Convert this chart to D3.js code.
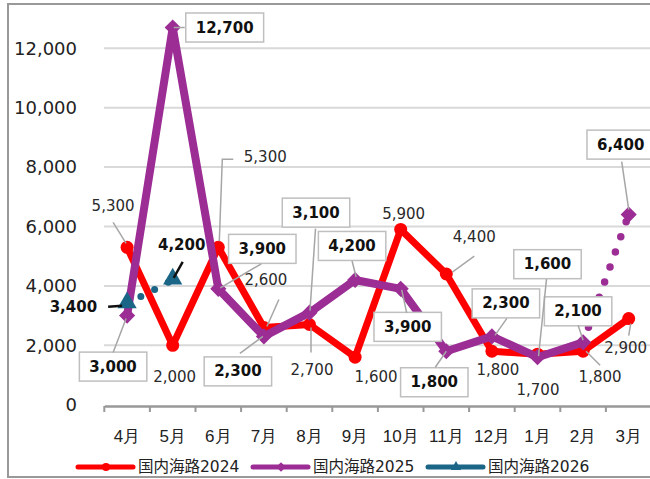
<!DOCTYPE html>
<html><head><meta charset="utf-8">
<script src="https://cdn.jsdelivr.net/npm/d3@7"></script>
<style>
html,body{margin:0;padding:0;background:#fff;}
svg{display:block;font-family:"DejaVu Sans","Noto Sans CJK JP",sans-serif;}
</style></head>
<body>
<svg id="c" width="650" height="479"></svg>
<script>
// ---- data ----
const months = ["4月","5月","6月","7月","8月","9月","10月","11月","12月","1月","2月","3月"];
const s2024 = [5300,2000,5300,2600,2700,1600,5900,4400,1800,1700,1800,2900];
const s2025 = [3000,12700,3900,2300,3100,4200,3900,1800,2300,1600,2100,6400];
const s2026 = [3400,4200];
const yTicks = [0,2000,4000,6000,8000,10000,12000];
const seriesNames = ["国内海路2024","国内海路2025","国内海路2026"];

// ---- label layout (offsets from the data point) ----
const lab2024 = [
  {dx:-14,dy:-41,line:[[-14,-25],[-1,-4]]},
  {dx:2,dy:32},
  {dx:47,dy:-90,line:[[15,-88],[4,-88],[1,-6]]},
  {dx:2,dy:-47,line:[[15,-28],[3,-1]]},
  {dx:2.5,dy:45,line:[[1.5,28],[1.5,3]]},
  {dx:21,dy:20},
  {dx:3,dy:-15},
  {dx:28,dy:-37,line:[[28,-18],[6,-2]]},
  {dx:6,dy:19},
  {dx:0.5,dy:36},
  {dx:17,dy:26,line:[[17,14],[3,0]]},
  {dx:-3,dy:29,line:[[0,17],[2,5]]}
];
const lab2025 = [
  {dx:-14,dy:51,line:[[-14,37],[-1,3]]},
  {dx:52,dy:0,line:[[1,0],[12,0]]},
  {dx:44,dy:-40,line:[[43,-25],[2,-1]]},
  {dx:-26,dy:35,line:[[-24,17],[-1,0]]},
  {dx:6.5,dy:-100,line:[[6,-84],[0.5,-2]]},
  {dx:-3,dy:-34,line:[[-3,-19],[1,-3]]},
  {dx:7,dy:38,line:[[6,24],[1,1]]},
  {dx:-12,dy:31,line:[[-11,16],[0,0]]},
  {dx:14,dy:-33,line:[[15,-18],[3,-1]]},
  {dx:10,dy:-93,line:[[9,-78],[1,-1]]},
  {dx:-5,dy:-31,line:[[-5,-17],[0,-2]]},
  {dx:-8,dy:-70,line:[[-7,-53],[0,-5]]}
];
const lab2026 = [
  {dx:-30,dy:3,anchor:"end",line:[[-19,3],[-5,2]]},
  {dx:9,dy:-35,line:[[10,-18],[1,-2]]}
];

const svg = d3.select("#c");
const fmt = d3.format(",");
const RED = "#FF0000", PURPLE = "#9B2D94", TEAL = "#1B6587";

// frame
svg.append("rect").attr("x",8).attr("y",4).attr("width",700).attr("height",473)
  .attr("fill","#fff").attr("stroke","#999").attr("stroke-width",2);

const x = d3.scaleBand().domain(months).range([104.3,651.5]);
const y = d3.scaleLinear().domain([0,12000]).range([404.7,48.3]);
const cx = i => x(months[i]) + x.bandwidth()/2;

// gridlines
svg.append("g").selectAll("line").data(yTicks.slice(1)).join("line")
  .attr("x1",104).attr("x2",650).attr("y1",d=>y(d)).attr("y2",d=>y(d))
  .attr("stroke","#D9D9D9").attr("stroke-width",2);

// y axis labels
const yAxis = d3.axisLeft(y).tickValues(yTicks).tickFormat(fmt).tickSize(0).tickPadding(0);
const gy = svg.append("g").attr("transform","translate(77,0)").call(yAxis);
gy.select(".domain").remove();
gy.selectAll("text").attr("font-size",18).attr("fill","#222").attr("font-family","DejaVu Sans");

// x axis
const xAxis = d3.axisBottom(x).tickSize(0).tickPadding(0);
const gx = svg.append("g").attr("transform","translate(0,406)").call(xAxis);
gx.select(".domain").attr("stroke","#999").attr("stroke-width",2.5);
gx.selectAll(".tick line").remove();
gx.selectAll("text").attr("font-size",17).attr("fill","#222").attr("dy",0).attr("y",36);
// category boundary ticks
svg.append("g").selectAll("line").data(months).join("line")
  .attr("x1",d=>x(d)).attr("x2",d=>x(d)).attr("y1",406).attr("y2",412)
  .attr("stroke","#999").attr("stroke-width",2);

// lines
const line = d3.line().x(d=>cx(d.i)).y(d=>y(d.v));
const pts = arr => arr.map((v,i)=>({i,v}));
const p24 = pts(s2024), p25 = pts(s2025), p26 = pts(s2026);

svg.append("path").attr("d",line(p24)).attr("fill","none").attr("stroke",RED)
  .attr("stroke-width",7).attr("stroke-linejoin","round");
svg.selectAll(".m24").data(p24).join("circle").attr("cx",d=>cx(d.i)).attr("cy",d=>y(d.v))
  .attr("r",6.5).attr("fill",RED);

svg.append("path").attr("d",line(p25.slice(0,11))).attr("fill","none").attr("stroke",PURPLE)
  .attr("stroke-width",8).attr("stroke-linejoin","round");
svg.append("path").attr("d",line(p25.slice(10))).attr("fill","none").attr("stroke",PURPLE)
  .attr("stroke-width",7.5).attr("stroke-linecap","round").attr("stroke-dasharray","0 16");
svg.selectAll(".m25").data(p25).join("path")
  .attr("d",d3.symbol().type(d3.symbolSquare).size(130))
  .attr("transform",d=>`translate(${cx(d.i)},${y(d.v)}) rotate(45)`).attr("fill",PURPLE);

svg.append("path").attr("d",line(p26)).attr("fill","none").attr("stroke",TEAL)
  .attr("stroke-width",7).attr("stroke-linecap","round").attr("stroke-dasharray","0 15.5");
svg.selectAll(".m26").data(p26).join("path")
  .attr("d",d3.symbol().type(d3.symbolTriangle).size(160))
  .attr("transform",d=>`translate(${cx(d.i)},${y(d.v)-1})`).attr("fill",TEAL);

// labels
function leader(g, p, l, color, w){
  if(!l.line) return;
  g.append("polyline").attr("points",l.line.map(q=>[cx(p.i)+q[0],y(p.v)+q[1]].join(",")).join(" "))
    .attr("fill","none").attr("stroke",color).attr("stroke-width",w);
}
const gl = svg.append("g");
p24.forEach((p,k)=>{
  const l = lab2024[k];
  leader(gl,p,l,"#A6A6A6",1.5);
  gl.append("text").attr("x",cx(p.i)+l.dx).attr("y",y(p.v)+l.dy).attr("text-anchor","middle")
    .attr("dominant-baseline","central").attr("font-size",15).attr("fill","#2a2a2a").text(fmt(p.v));
});
p25.forEach((p,k)=>{
  const l = lab2025[k];
  leader(gl,p,l,"#A6A6A6",1.5);
  const tx = cx(p.i)+l.dx, ty = y(p.v)+l.dy;
  const t = gl.append("text").attr("x",tx).attr("y",ty).attr("text-anchor","middle")
    .attr("dominant-baseline","central").attr("font-size",15).attr("font-weight","bold")
    .attr("fill","#111").text(fmt(p.v));
  const w = t.node().getComputedTextLength() + 20;
  gl.insert("rect","text").attr("x",tx-w/2).attr("y",ty-14.5).attr("width",w).attr("height",29)
    .attr("fill","#fff").attr("stroke","#BFBFBF").attr("stroke-width",1.5);
});
gl.selectAll("text").raise();
p26.forEach((p,k)=>{
  const l = lab2026[k];
  leader(gl,p,l,"#111",2.5);
  gl.append("text").attr("x",cx(p.i)+l.dx).attr("y",y(p.v)+l.dy).attr("text-anchor",l.anchor||"middle")
    .attr("dominant-baseline","central").attr("font-size",15).attr("font-weight","bold")
    .attr("fill","#111").text(fmt(p.v));
});

// legend
const legend = [
  {name:seriesNames[0],color:RED,x:78,sym:"circle"},
  {name:seriesNames[1],color:PURPLE,x:253,sym:"diamond"},
  {name:seriesNames[2],color:TEAL,x:428,sym:"triangle"}
];
const lg = svg.append("g");
legend.forEach(d=>{
  lg.append("line").attr("x1",d.x).attr("x2",d.x+55).attr("y1",467).attr("y2",467)
    .attr("stroke",d.color).attr("stroke-width",5).attr("stroke-linecap","round");
  const sym = d.sym==="circle"?d3.symbolCircle:d.sym==="diamond"?d3.symbolSquare:d3.symbolTriangle;
  lg.append("path").attr("d",d3.symbol().type(sym).size(d.sym==="circle"?50:45))
    .attr("transform",`translate(${d.x+28},467)`+(d.sym==="diamond"?" rotate(45)":"")).attr("fill",d.color);
  lg.append("text").attr("x",d.x+60).attr("y",467).attr("dominant-baseline","central")
    .attr("font-size",15.5).attr("fill","#222").text(d.name);
});
</script>
</body></html>
